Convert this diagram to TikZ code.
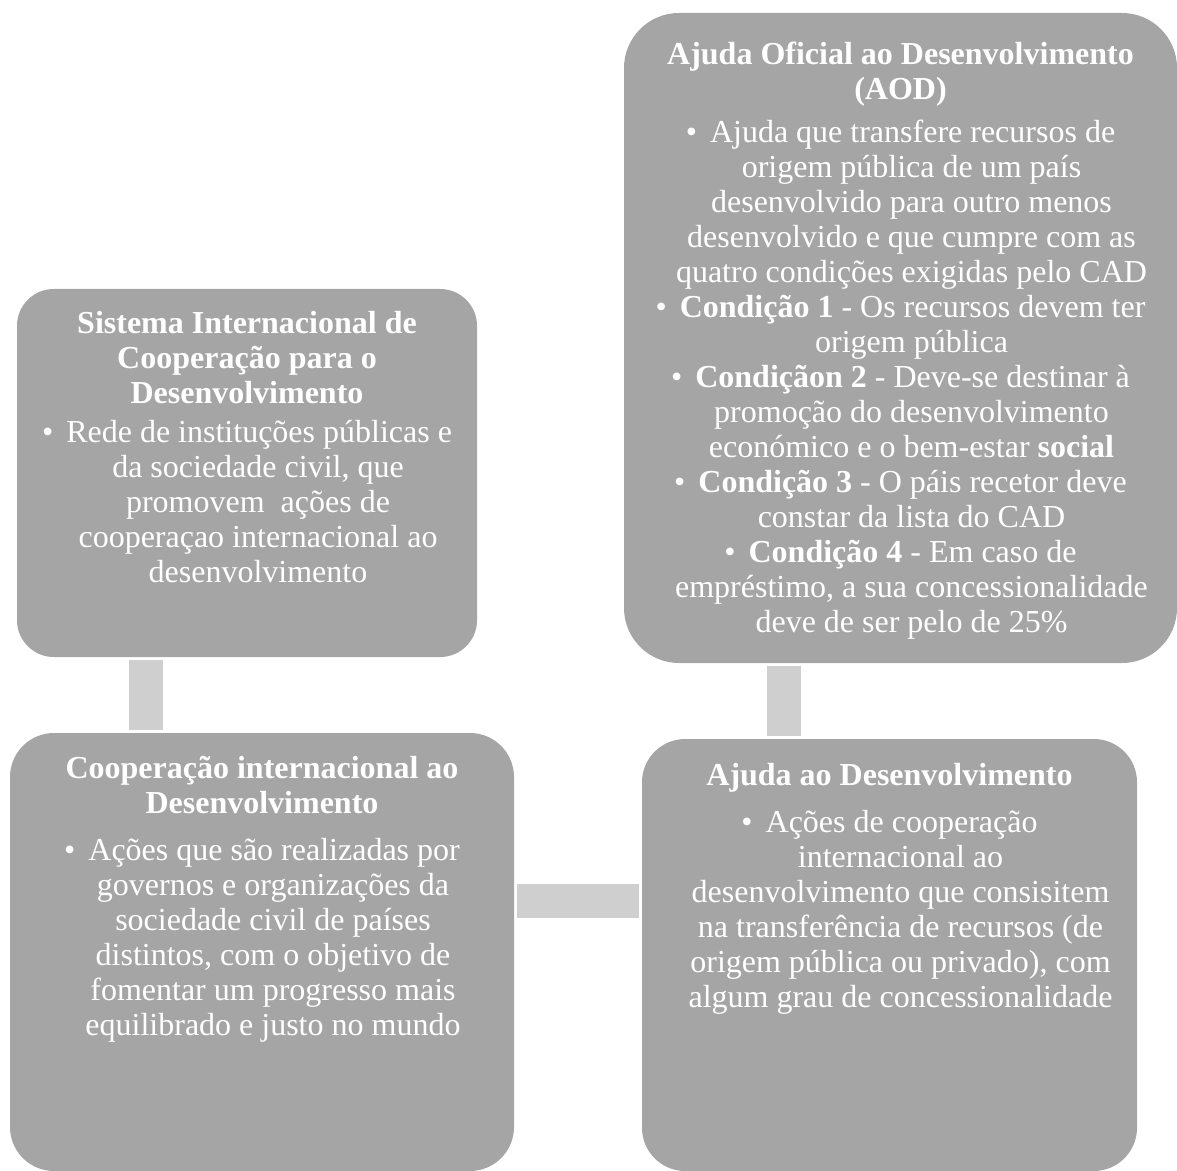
\documentclass[tikz,border=0pt]{standalone}
\usepackage{fontspec}
\setmainfont{Liberation Serif}
\usetikzlibrary{positioning}
\definecolor{boxfill}{HTML}{A5A5A5}
\definecolor{linkfill}{HTML}{CFCFCF}
\newcommand{\boxfont}{\fontsize{16pt}{17.5pt}\selectfont\lineskiplimit=-20pt\relax}
\newcommand{\hg}{\hspace*{11pt}}
\newcommand{\fl}{\rule{0pt}{13pt}}
\newcommand{\bul}{\textbullet\hspace{6.5pt}}
\tikzset{
  box/.style={fill=boxfill, inner sep=0pt},
  boxtext/.style={text=white, align=center, inner sep=0pt, font=\boxfont},
  link/.style={draw=linkfill, line width=17pt, shorten <=1.5pt, shorten >=1.5pt},
}

\begin{document}
\begin{tikzpicture}[x=0.5pt, y=-0.5pt]
    \useasboundingbox (0,0) rectangle (1177,1171);
    \node[box, minimum width=230pt, minimum height=184pt, rounded corners=18.4pt] (sys) at (247,473) {};
    \node[box, minimum width=276.5pt, minimum height=325pt, rounded corners=27.5pt] (aod) at (900.5,338) {};
    \node[box, minimum width=252pt, minimum height=219pt, rounded corners=22pt] (coop) at (262,952) {};
    \node[box, minimum width=247.5pt, minimum height=216pt, rounded corners=21.6pt] (aid) at (889.5,955) {};
    \node[boxtext, below=9pt of sys.north] (sysText) {\fl\textbf{Sistema Internacional de}\\ \textbf{Cooperação para o}\\ \textbf{Desenvolvimento}\\[2pt]
      \bul Rede de instituções públicas e\\ \hg da sociedade civil, que\\ \hg promovem\ \ ações de\\ \hg cooperaçao internacional ao\\ \hg desenvolvimento};
    \node[boxtext, below=12.5pt of aod.north] (aodText) {\fl\textbf{Ajuda Oficial ao Desenvolvimento}\\ \textbf{(AOD)}\\[4pt]
      \bul Ajuda que transfere recursos de\\ \hg origem pública de um país\\ \hg desenvolvido para outro menos\\ \hg desenvolvido e que cumpre com as\\ \hg quatro condições exigidas pelo CAD\\
      \bul \textbf{Condição 1} - Os recursos devem ter\\ \hg origem pública\\
      \bul \textbf{Condiçãon 2} - Deve-se destinar à\\ \hg promoção do desenvolvimento\\ \hg económico e o bem-estar \textbf{social}\\
      \bul \textbf{Condição 3} - O páis recetor deve\\ \hg constar da lista do CAD\\
      \bul \textbf{Condição 4} - Em caso de\\ \hg empréstimo, a sua concessionalidade\\ \hg deve de ser pelo de 25\%};
    \node[boxtext, below=9.5pt of coop.north] (coopText) {\fl\textbf{Cooperação internacional ao}\\ \textbf{Desenvolvimento}\\[6pt]
      \bul Ações que são realizadas por\\ \hg governos e organizações da\\ \hg sociedade civil de países\\ \hg distintos, com o objetivo de\\ \hg fomentar um progresso mais\\ \hg equilibrado e justo no mundo};
    \node[boxtext, below=10pt of aid.north] (aidText) {\fl\textbf{Ajuda ao Desenvolvimento}\\[6pt]
      \bul Ações de cooperação\\ \hg internacional ao\\ \hg desenvolvimento que consisitem\\ \hg na transferência de recursos (de\\ \hg origem pública ou privado), com\\ \hg algum grau de concessionalidade};
    \coordinate (linkL) at (145.5,0);
    \coordinate (linkR) at (784,0);
    \coordinate (linkH) at (0,900.5);
    \draw[link] (sys.south -| linkL) -- (coop.north -| linkL);
    \draw[link] (aod.south -| linkR) -- (aid.north -| linkR);
    \draw[link] (coop.east |- linkH) -- (aid.west |- linkH);
\end{tikzpicture}
\end{document}
